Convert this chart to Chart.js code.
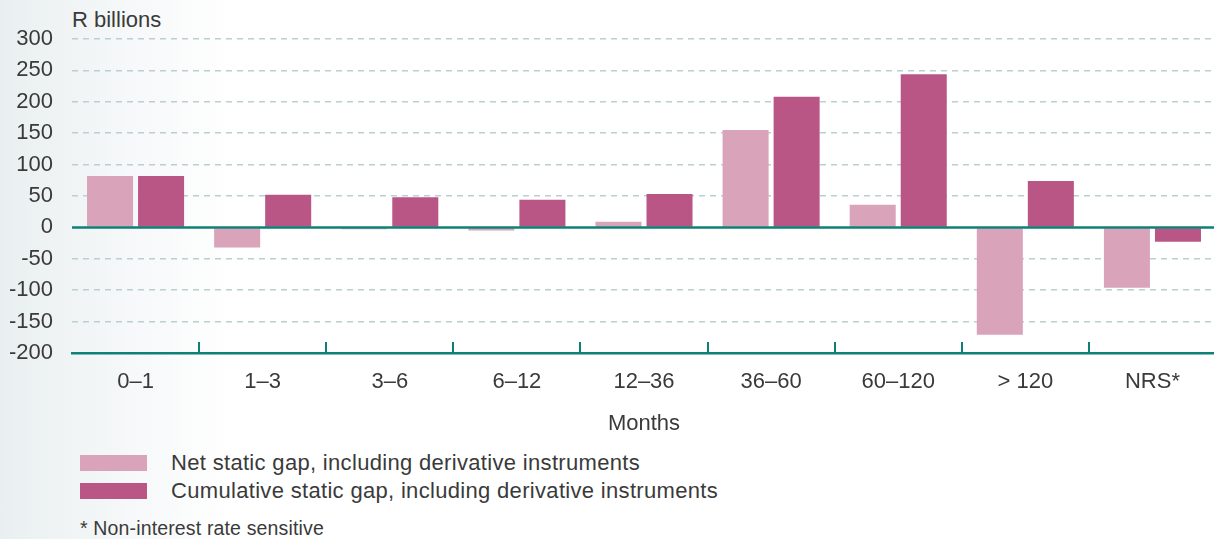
<!DOCTYPE html>
<html>
<head>
<meta charset="utf-8">
<script src="https://cdn.jsdelivr.net/npm/chart.js@4.4.1/dist/chart.umd.min.js"></script>
<style>
  html, body { margin: 0; padding: 0; width: 1214px; height: 539px; overflow: hidden; }
  body {
    position: relative;
    background: linear-gradient(to right, #e9eff0 0px, #f3f6f7 100px, #ffffff 235px);
    font-family: "Liberation Sans", Arial, Helvetica, sans-serif;
    color: #3a3a3a;
  }
  #wrap { position: absolute; left: 0; top: 0; width: 1216px; height: 440px; }
  .unit { position: absolute; left: 72px; top: 9px; font-size: 22px; line-height: 22px; white-space: nowrap; }
  .legend-item { position: absolute; left: 80px; height: 22px; font-size: 22px; line-height: 22px; white-space: nowrap; }
  .legend-item .swatch { position: absolute; left: 0; width: 67px; height: 16px; }
  .legend-item .label { position: absolute; left: 91px; top: 0; letter-spacing: 0.32px; }
  .note { position: absolute; left: 80px; top: 519px; font-size: 19.5px; line-height: 19.5px; letter-spacing: 0.15px; white-space: nowrap; }
</style>
</head>
<body>
<div class="unit">R billions</div>
<div id="wrap"><canvas id="gap"></canvas></div>
<div class="legend-item" style="top:452px"><span class="swatch" id="sw0" style="top:3px"></span><span class="label" id="lb0"></span></div>
<div class="legend-item" style="top:480px"><span class="swatch" id="sw1" style="top:3px"></span><span class="label" id="lb1"></span></div>
<div class="note">* Non-interest rate sensitive</div>
<script>
// Repricing buckets (months) and gap values, R billions
const buckets = ['0\u20131', '1\u20133', '3\u20136', '6\u201312', '12\u201336', '36\u201360', '60\u2013120', '> 120', 'NRS*'];
const netGap = [82, -32, -3, -5, 9, 155, 36, -171, -96];
const cumulativeGap = [82, 52, 48, 44, 53, 208, 244, 74, -23];
const seriesNames = [
  'Net static gap, including derivative instruments',
  'Cumulative static gap, including derivative instruments'
];
const yTicks = [300, 250, 200, 150, 100, 50, 0, -50, -100, -150, -200];

const TEAL = '#0f8077';
const NET_COLOR = '#d9a4b9';
const CUM_COLOR = '#b95686';
const GRID_COLOR = '#bad0d0';
const FONT = '"Liberation Sans", Arial, Helvetica, sans-serif';
const TEXT = '#3a3a3a';

// HTML legend below the chart
[NET_COLOR, CUM_COLOR].forEach((c, i) => {
  document.getElementById('sw' + i).style.background = c;
  document.getElementById('lb' + i).textContent = seriesNames[i];
});

// Solid teal zero line and short upward ticks at the bucket boundaries
const axisDecor = {
  id: 'axisDecor',
  afterDatasetsDraw(chart) {
    const { ctx, chartArea, scales } = chart;
    const x = scales.x, y = scales.y;
    ctx.save();
    ctx.strokeStyle = TEAL;
    ctx.lineWidth = 2.5;
    const y0 = y.getPixelForValue(0);
    ctx.beginPath();
    ctx.moveTo(chartArea.left, y0);
    ctx.lineTo(chartArea.right, y0);
    ctx.stroke();
    ctx.lineWidth = 2;
    for (let i = 0; i < buckets.length - 1; i++) {
      const bx = Math.round((x.getPixelForValue(i) + x.getPixelForValue(i + 1)) / 2);
      ctx.beginPath();
      ctx.moveTo(bx, chartArea.bottom);
      ctx.lineTo(bx, chartArea.bottom - 11);
      ctx.stroke();
    }
    ctx.restore();
  }
};

new Chart(document.getElementById('gap'), {
  type: 'bar',
  data: {
    labels: buckets,
    datasets: [
      { label: seriesNames[0], data: netGap, backgroundColor: NET_COLOR },
      { label: seriesNames[1], data: cumulativeGap, backgroundColor: CUM_COLOR }
    ]
  },
  options: {
    responsive: true,
    maintainAspectRatio: false,
    animation: false,
    datasets: { bar: { categoryPercentage: 0.803, barPercentage: 0.902 } },
    layout: { padding: { top: 39, left: 0, right: 0, bottom: 0 } },
    plugins: { legend: { display: false }, tooltip: { enabled: false } },
    scales: {
      x: {
        grid: { display: false, drawTicks: false },
        border: { display: true, color: TEAL, width: 2.5 },
        ticks: { color: TEXT, font: { family: FONT, size: 22 }, padding: 16, maxRotation: 0 },
        title: { display: true, text: 'Months', color: TEXT, font: { family: FONT, size: 22 }, padding: { top: 0, bottom: 3 } },
        afterFit(scale) { scale.height = 87; }
      },
      y: {
        min: -200,
        max: 300,
        afterBuildTicks(scale) { scale.ticks = yTicks.map(v => ({ value: v })); },
        grid: {
          drawTicks: false,
          lineWidth: 1.5,
          color: ctx => (ctx.tick && (ctx.tick.value === 0 || ctx.tick.value === -200)) ? 'rgba(0,0,0,0)' : GRID_COLOR
        },
        border: { display: false, dash: [6, 5] },
        ticks: { color: TEXT, font: { family: FONT, size: 22 }, padding: 19 },
        afterFit(scale) { scale.width = 72; }
      }
    }
  },
  plugins: [axisDecor]
});
</script>
</body>
</html>
